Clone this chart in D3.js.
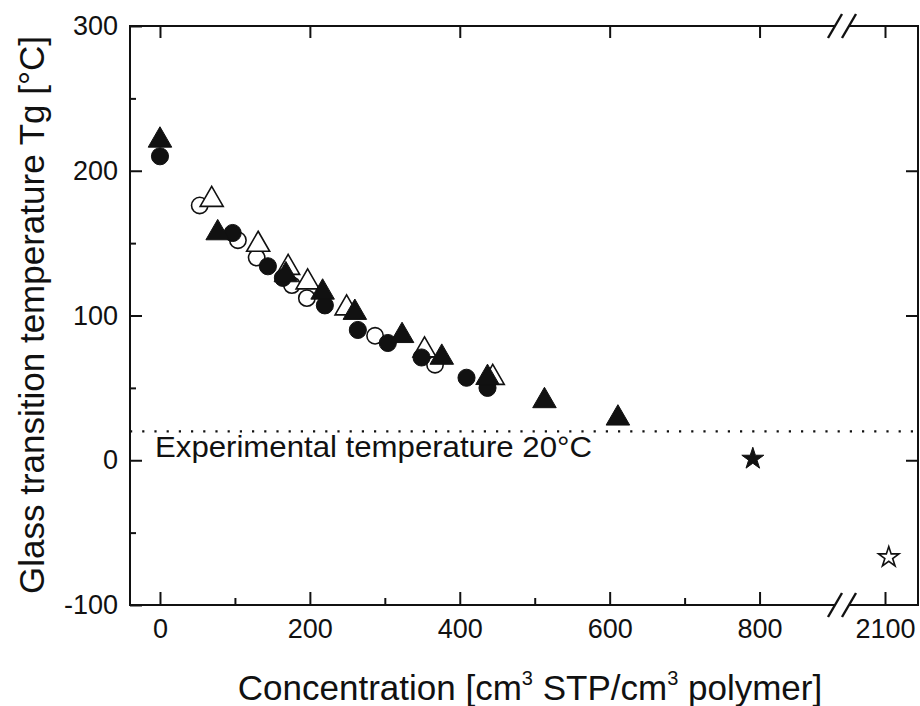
<!DOCTYPE html>
<html>
<head>
<meta charset="utf-8">
<script src="https://cdn.jsdelivr.net/npm/d3@7"></script>
<style>
  body { margin: 0; background: #fff; }
  svg { display: block; font-family: "Liberation Sans", Arial, sans-serif; }
</style>
</head>
<body>
<svg id="chart" width="920" height="706"></svg>
<script>
// values: [concentration, Tg]
const filledCircles = [[0, 210], [97, 157], [144, 134], [164, 126], [220, 107], [264, 90], [304, 81], [349, 71], [409, 57], [437, 50]];
const openCircles = [[53, 176], [104, 152], [129, 140], [176, 121], [196, 112], [287, 86], [367, 66]];
const filledTriangles = [[0, 221], [77, 157], [168, 128], [217, 116], [260, 102], [323, 86], [376, 71], [437, 57], [513, 41], [611, 29]];
const openTriangles = [[69, 180], [131, 149], [171, 133], [197, 123], [249, 105], [353, 76], [444, 57]];
const filledStars = [[791, 1]];
const openStars = [[2105, -67]];

const yMajor = [-100, 0, 100, 200, 300];
const yMinor = [-50, 50, 150, 250];
const xMajorLeft = [0, 200, 400, 600, 800];
const xMinorLeft = [100, 300, 500, 700];
const xMajorRight = [2100];
const expTemp = 20;

const svg = d3.select("#chart");
const plotL = 130, plotR = 918, plotT = 26, plotB = 605;
const breakX = 842;

const y = d3.scaleLinear().domain([-100, 300]).range([plotB, plotT]);
const xL = d3.scaleLinear().domain([-40, 910]).range([plotL, breakX]);
const xR = d3.scaleLinear().domain([2044, 2144]).range([843, plotR]);
const xPos = function (v) { return v > 1500 ? xR(v) : xL(v); };
const plain = function (d) { return String(d); };

const ink = "#111";

// dotted line for experimental temperature
svg.append("line")
  .attr("x1", plotL).attr("x2", plotR)
  .attr("y1", y(expTemp)).attr("y2", y(expTemp))
  .attr("stroke", ink).attr("stroke-width", 2.2)
  .attr("stroke-dasharray", "2.2,10");

svg.append("text")
  .attr("x", 155).attr("y", y(expTemp) + 26)
  .attr("font-size", 29).attr("fill", ink)
  .attr("textLength", 437).attr("lengthAdjust", "spacingAndGlyphs")
  .text("Experimental temperature 20°C");

// axes
function styleAxis(g) {
  g.select(".domain").remove();
  g.selectAll("line").attr("stroke", ink).attr("stroke-width", 2);
  g.selectAll("text").attr("font-size", 27).attr("fill", ink)
    .attr("font-family", "'Liberation Sans', Arial, sans-serif");
}

svg.append("g").attr("transform", `translate(${plotL},0)`)
  .call(d3.axisLeft(y).tickValues(yMajor).tickFormat(plain).tickSize(-12).tickPadding(12))
  .call(styleAxis);
svg.append("g").attr("transform", `translate(${plotL},0)`)
  .call(d3.axisLeft(y).tickValues(yMinor).tickSize(-6).tickFormat(""))
  .call(styleAxis);
svg.append("g").attr("transform", `translate(${plotR},0)`)
  .call(d3.axisRight(y).tickValues(yMajor.slice(1, -1)).tickSize(-12).tickFormat(""))
  .call(styleAxis);

svg.append("g").attr("transform", `translate(0,${plotB})`)
  .call(d3.axisBottom(xL).tickValues(xMajorLeft).tickFormat(plain).tickSize(-13).tickPadding(14))
  .call(styleAxis);
svg.append("g").attr("transform", `translate(0,${plotB})`)
  .call(d3.axisBottom(xL).tickValues(xMinorLeft).tickSize(-7).tickFormat(""))
  .call(styleAxis);
svg.append("g").attr("transform", `translate(0,${plotB})`)
  .call(d3.axisBottom(xR).tickValues(xMajorRight).tickFormat(plain).tickSize(-13).tickPadding(14))
  .call(styleAxis);
svg.append("g").attr("transform", `translate(0,${plotT})`)
  .call(d3.axisTop(xL).tickValues(xMajorLeft).tickSize(-12).tickFormat(""))
  .call(styleAxis);
svg.append("g").attr("transform", `translate(0,${plotT})`)
  .call(d3.axisTop(xR).tickValues(xMajorRight).tickSize(-12).tickFormat(""))
  .call(styleAxis);

// frame with the break gap
const frame = svg.append("g").attr("stroke", ink).attr("stroke-width", 2).attr("fill", "none");
frame.append("line").attr("x1", plotL).attr("x2", plotL).attr("y1", plotT - 1).attr("y2", plotB + 1);
frame.append("line").attr("x1", plotR).attr("x2", plotR).attr("y1", plotT - 1).attr("y2", plotB + 1);
[plotT, plotB].forEach(function (yy) {
  frame.append("line").attr("x1", plotL).attr("x2", 835).attr("y1", yy).attr("y2", yy);
  frame.append("line").attr("x1", 849).attr("x2", plotR).attr("y1", yy).attr("y2", yy);
  [835, 849].forEach(function (bx) {
    frame.append("line")
      .attr("x1", bx - 7).attr("y1", yy + 12)
      .attr("x2", bx + 7).attr("y2", yy - 12)
      .attr("stroke-width", 2.4);
  });
});

// markers
function drawSeries(data, type, size, filled) {
  svg.append("g").selectAll("path")
    .data(data)
    .enter()
    .append("path")
    .attr("transform", function (d) { return `translate(${xPos(d[0])},${y(d[1])})`; })
    .attr("d", d3.symbol().type(type).size(size))
    .attr("fill", filled ? ink : "#fff")
    .attr("stroke", ink)
    .attr("stroke-width", filled ? 1 : 1.6);
}

drawSeries(openCircles, d3.symbolCircle, 210, false);
drawSeries(openTriangles, d3.symbolTriangle, 230, false);
drawSeries(filledCircles, d3.symbolCircle, 230, true);
drawSeries(filledTriangles, d3.symbolTriangle, 240, true);
drawSeries(filledStars, d3.symbolStar, 150, true);
drawSeries(openStars, d3.symbolStar, 130, false);

// axis titles
const xTitle = svg.append("text")
  .attr("x", 530).attr("y", 700)
  .attr("text-anchor", "middle")
  .attr("font-size", 35).attr("fill", ink);
xTitle.append("tspan").text("Concentration [cm");
xTitle.append("tspan").attr("font-size", 20).attr("dy", -15).text("3");
xTitle.append("tspan").attr("dy", 15).text(" STP/cm");
xTitle.append("tspan").attr("font-size", 20).attr("dy", -15).text("3");
xTitle.append("tspan").attr("dy", 15).text(" polymer]");

svg.append("text")
  .attr("transform", "translate(44,315) rotate(-90)")
  .attr("text-anchor", "middle")
  .attr("font-size", 35).attr("fill", ink)
  .text("Glass transition temperature Tg [°C]");
</script>
</body>
</html>
